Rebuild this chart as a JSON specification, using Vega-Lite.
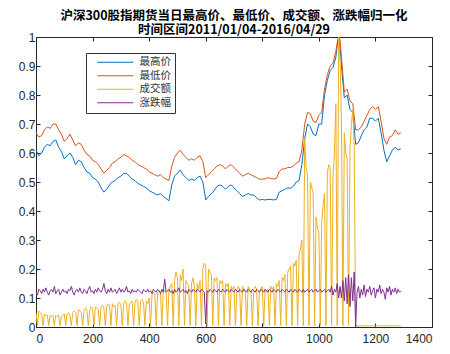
{
"$schema": "https://vega.github.io/schema/vega-lite/v6.json",
"width": 396, "height": 290,
"autosize": "none",
"padding": {"left": 36, "top": 37, "right": 18, "bottom": 27},
"background": "white",
"title": {"text": ["沪深300股指期货当日最高价、最低价、成交额、涨跌幅归一化", "时间区间2011/01/04-2016/04/29"], "font": "Noto Sans CJK SC", "fontSize": 12.5, "fontWeight": "bold", "color": "#000000", "lineHeight": 14, "offset": -5, "anchor": "middle"},
"config": {"view": {"stroke": null}, "axis": {"grid": false, "domainColor": "#262626", "tickColor": "#262626", "labelColor": "#262626", "labelFont": "Liberation Sans", "labelFontSize": 12, "tickSize": -4, "title": null}},
"data": {"values": [
{"x":0,"v":0.05,"r":0.12,"h":0.61,"l":0.67},{"x":5,"v":0.005,"r":0.11},{"x":10,"v":0.055,"r":0.13,"h":0.59,"l":0.655},{"x":15,"v":0.05,"r":0.125},
{"x":20,"v":0.045,"r":0.115,"h":0.6,"l":0.66},{"x":25,"v":0.005,"r":0.13},{"x":30,"v":0.045,"r":0.12,"h":0.62,"l":0.68},{"x":35,"v":0.04,"r":0.135},
{"x":40,"v":0.04,"r":0.12,"h":0.63,"l":0.69},{"x":45,"v":0.005,"r":0.11},{"x":50,"v":0.04,"r":0.125,"h":0.625,"l":0.685},{"x":55,"v":0.035,"r":0.13},
{"x":60,"v":0.04,"r":0.12,"h":0.64,"l":0.7},{"x":65,"v":0.005,"r":0.14},{"x":70,"v":0.04,"r":0.115,"h":0.645,"l":0.7},{"x":75,"v":0.035,"r":0.125},
{"x":80,"v":0.04,"r":0.13,"h":0.62,"l":0.68},{"x":85,"v":0.005,"r":0.11},{"x":90,"v":0.035,"r":0.12,"h":0.605,"l":0.665},{"x":95,"v":0.04,"r":0.13},
{"x":100,"v":0.045,"r":0.12,"h":0.58,"l":0.64},{"x":105,"v":0.005,"r":0.125},{"x":110,"v":0.045,"r":0.115,"h":0.59,"l":0.65},{"x":115,"v":0.05,"r":0.13},
{"x":120,"v":0.04,"r":0.125,"h":0.6,"l":0.665},{"x":125,"v":0.005,"r":0.14},{"x":130,"v":0.05,"r":0.12,"h":0.585,"l":0.645},{"x":135,"v":0.055,"r":0.11},
{"x":140,"v":0.05,"r":0.125,"h":0.56,"l":0.625},{"x":145,"v":0.005,"r":0.13},{"x":150,"v":0.06,"r":0.12,"h":0.575,"l":0.635},{"x":155,"v":0.055,"r":0.135},
{"x":160,"v":0.05,"r":0.12,"h":0.57,"l":0.63},{"x":165,"v":0.005,"r":0.115},{"x":170,"v":0.06,"r":0.13,"h":0.55,"l":0.61},{"x":175,"v":0.065,"r":0.125},
{"x":180,"v":0.055,"r":0.115,"h":0.535,"l":0.595},{"x":185,"v":0.005,"r":0.13},{"x":190,"v":0.06,"r":0.14,"h":0.53,"l":0.59},{"x":195,"v":0.07,"r":0.12},
{"x":200,"v":0.065,"r":0.125,"h":0.515,"l":0.575},{"x":205,"v":0.005,"r":0.115},{"x":210,"v":0.07,"r":0.13,"h":0.51,"l":0.57},{"x":215,"v":0.065,"r":0.12},
{"x":220,"v":0.06,"r":0.135,"h":0.5,"l":0.56},{"x":225,"v":0.005,"r":0.125},{"x":230,"v":0.07,"r":0.12,"h":0.48,"l":0.545},{"x":235,"v":0.075,"r":0.13},
{"x":240,"v":0.065,"r":0.15,"h":0.465,"l":0.53},{"x":245,"v":0.005,"r":0.125},{"x":250,"v":0.07,"r":0.115,"h":0.475,"l":0.54},{"x":255,"v":0.08,"r":0.13},
{"x":260,"v":0.075,"r":0.12,"h":0.49,"l":0.55},{"x":265,"v":0.005,"r":0.135},{"x":270,"v":0.08,"r":0.12,"h":0.5,"l":0.565},{"x":275,"v":0.07,"r":0.125},
{"x":280,"v":0.075,"r":0.13,"h":0.505,"l":0.57},{"x":285,"v":0.005,"r":0.115},{"x":290,"v":0.08,"r":0.125,"h":0.515,"l":0.58},{"x":295,"v":0.085,"r":0.135},
{"x":300,"v":0.075,"r":0.12,"h":0.52,"l":0.585},{"x":305,"v":0.005,"r":0.13},{"x":310,"v":0.08,"r":0.12,"h":0.53,"l":0.595},{"x":315,"v":0.09,"r":0.125},
{"x":320,"v":0.085,"r":0.14,"h":0.53,"l":0.59},{"x":325,"v":0.005,"r":0.12},{"x":330,"v":0.08,"r":0.125,"h":0.52,"l":0.585},{"x":335,"v":0.085,"r":0.115},
{"x":340,"v":0.09,"r":0.13,"h":0.51,"l":0.575},{"x":345,"v":0.005,"r":0.12},{"x":350,"v":0.085,"r":0.125,"h":0.505,"l":0.57},{"x":355,"v":0.095,"r":0.12},
{"x":360,"v":0.085,"r":0.13,"h":0.495,"l":0.56},{"x":365,"v":0.005,"r":0.125},{"x":370,"v":0.09,"r":0.12,"h":0.49,"l":0.555},{"x":375,"v":0.095,"r":0.115},
{"x":380,"v":0.085,"r":0.13,"h":0.485,"l":0.55},{"x":385,"v":0.005,"r":0.125},{"x":390,"v":0.09,"r":0.12,"h":0.48,"l":0.545},{"x":395,"v":0.08,"r":0.13},
{"x":400,"v":0.1,"r":0.12,"h":0.47,"l":0.535},{"x":405,"v":0.005,"r":0.125},{"x":410,"v":0.11,"r":0.115,"h":0.465,"l":0.53},{"x":415,"v":0.12,"r":0.13},
{"x":420,"v":0.115,"r":0.125,"h":0.46,"l":0.525},{"x":425,"v":0.005,"r":0.12},{"x":430,"v":0.12,"r":0.13,"h":0.455,"l":0.52},{"x":435,"v":0.125,"r":0.125},
{"x":440,"v":0.12,"r":0.115,"h":0.46,"l":0.525},{"x":445,"v":0.005,"r":0.13},{"x":450,"v":0.13,"r":0.12,"h":0.45,"l":0.515},{"x":455,"v":0.125,"r":0.165},
{"x":460,"v":0.12,"r":0.12,"h":0.443,"l":0.51},{"x":465,"v":0.005,"r":0.125},{"x":470,"v":0.13,"r":0.13,"h":0.435,"l":0.505},{"x":475,"v":0.14,"r":0.12},
{"x":480,"v":0.15,"r":0.125,"h":0.49,"l":0.555},{"x":485,"v":0.005,"r":0.115},{"x":490,"v":0.16,"r":0.13,"h":0.52,"l":0.585},{"x":495,"v":0.19,"r":0.12},
{"x":500,"v":0.17,"r":0.125,"h":0.53,"l":0.6},{"x":505,"v":0.005,"r":0.135},{"x":510,"v":0.18,"r":0.12,"h":0.541,"l":0.61},{"x":515,"v":0.16,"r":0.125},
{"x":520,"v":0.2,"r":0.13,"h":0.525,"l":0.595},{"x":525,"v":0.005,"r":0.12},{"x":530,"v":0.16,"r":0.125,"h":0.515,"l":0.585},{"x":535,"v":0.15,"r":0.115},
{"x":540,"v":0.14,"r":0.13,"h":0.505,"l":0.575},{"x":545,"v":0.005,"r":0.125},{"x":550,"v":0.15,"r":0.12,"h":0.51,"l":0.58},{"x":555,"v":0.17,"r":0.13},
{"x":560,"v":0.14,"r":0.125,"h":0.505,"l":0.575},{"x":565,"v":0.005,"r":0.12},{"x":570,"v":0.15,"r":0.13,"h":0.515,"l":0.585},{"x":575,"v":0.13,"r":0.125},
{"x":580,"v":0.16,"r":0.12,"h":0.52,"l":0.59},{"x":585,"v":0.005,"r":0.13},{"x":590,"v":0.2,"r":0.125,"h":0.5,"l":0.57},{"x":595,"v":0.22,"r":0.12},
{"x":600,"v":0.21,"r":0.01,"h":0.438,"l":0.515},{"x":605,"v":0.005,"r":0.125},{"x":610,"v":0.2,"r":0.12,"h":0.45,"l":0.525},{"x":615,"v":0.19,"r":0.13},
{"x":620,"v":0.18,"r":0.125,"h":0.46,"l":0.535},{"x":625,"v":0.005,"r":0.12},{"x":630,"v":0.17,"r":0.13,"h":0.47,"l":0.545},{"x":635,"v":0.16,"r":0.125},
{"x":640,"v":0.17,"r":0.12,"h":0.485,"l":0.555},{"x":645,"v":0.005,"r":0.13},{"x":650,"v":0.16,"r":0.125,"h":0.49,"l":0.56},{"x":655,"v":0.15,"r":0.12},
{"x":660,"v":0.16,"r":0.13,"h":0.485,"l":0.555},{"x":665,"v":0.005,"r":0.125},{"x":670,"v":0.15,"r":0.12,"h":0.475,"l":0.545},{"x":675,"v":0.14,"r":0.13},
{"x":680,"v":0.15,"r":0.125,"h":0.485,"l":0.555},{"x":685,"v":0.005,"r":0.12},{"x":690,"v":0.14,"r":0.13,"h":0.49,"l":0.56},{"x":695,"v":0.13,"r":0.125},
{"x":700,"v":0.14,"r":0.12,"h":0.48,"l":0.55},{"x":705,"v":0.005,"r":0.13},{"x":710,"v":0.13,"r":0.125,"h":0.47,"l":0.54},{"x":715,"v":0.14,"r":0.12},
{"x":720,"v":0.13,"r":0.13,"h":0.46,"l":0.53},{"x":725,"v":0.005,"r":0.125},{"x":730,"v":0.14,"r":0.12,"h":0.45,"l":0.52},{"x":735,"v":0.13,"r":0.13},
{"x":740,"v":0.12,"r":0.125,"h":0.455,"l":0.525},{"x":745,"v":0.005,"r":0.12},{"x":750,"v":0.14,"r":0.13,"h":0.46,"l":0.53},{"x":755,"v":0.13,"r":0.125},
{"x":760,"v":0.12,"r":0.12,"h":0.455,"l":0.525},{"x":765,"v":0.005,"r":0.13},{"x":770,"v":0.13,"r":0.125,"h":0.455,"l":0.52},{"x":775,"v":0.14,"r":0.12},
{"x":780,"v":0.13,"r":0.13,"h":0.445,"l":0.515},{"x":785,"v":0.005,"r":0.125},{"x":790,"v":0.12,"r":0.12,"h":0.438,"l":0.51},{"x":795,"v":0.13,"r":0.13},
{"x":800,"v":0.14,"r":0.125,"h":0.44,"l":0.51},{"x":805,"v":0.005,"r":0.12},{"x":810,"v":0.13,"r":0.13,"h":0.438,"l":0.51},{"x":815,"v":0.12,"r":0.125},
{"x":820,"v":0.13,"r":0.12,"h":0.44,"l":0.515},{"x":825,"v":0.005,"r":0.13},{"x":830,"v":0.14,"r":0.125,"h":0.44,"l":0.512},{"x":835,"v":0.13,"r":0.12},
{"x":840,"v":0.14,"r":0.13,"h":0.438,"l":0.51},{"x":845,"v":0.005,"r":0.125},{"x":850,"v":0.15,"r":0.12,"h":0.44,"l":0.513},{"x":855,"v":0.14,"r":0.13},
{"x":860,"v":0.16,"r":0.125,"h":0.465,"l":0.535},{"x":865,"v":0.005,"r":0.12},{"x":870,"v":0.17,"r":0.13,"h":0.47,"l":0.545},{"x":875,"v":0.16,"r":0.125},
{"x":880,"v":0.18,"r":0.12,"h":0.475,"l":0.545},{"x":885,"v":0.005,"r":0.13},{"x":890,"v":0.19,"r":0.125,"h":0.48,"l":0.55},{"x":895,"v":0.2,"r":0.12},
{"x":900,"v":0.21,"r":0.13,"h":0.478,"l":0.55},{"x":905,"v":0.005,"r":0.125},{"x":910,"v":0.22,"r":0.12,"h":0.485,"l":0.555},{"x":915,"v":0.21,"r":0.13},
{"x":920,"v":0.23,"r":0.125,"h":0.5,"l":0.565},{"x":925,"v":0.005,"r":0.12},{"x":930,"v":0.25,"r":0.13,"h":0.505,"l":0.57},{"x":935,"v":0.27,"r":0.125},
{"x":940,"v":0.3,"r":0.12,"h":0.56,"l":0.61},{"x":945,"v":0.005,"r":0.13},{"x":950,"v":0.65,"r":0.12,"h":0.65,"l":0.7},{"x":955,"v":0.55,"r":0.125},
{"x":960,"v":0.52,"r":0.13,"h":0.7,"l":0.74},{"x":965,"v":0.005,"r":0.12},{"x":970,"v":0.5,"r":0.125,"h":0.69,"l":0.735},{"x":975,"v":0.48,"r":0.13},
{"x":980,"v":0.46,"r":0.12,"h":0.665,"l":0.71},{"x":985,"v":0.005,"r":0.125},{"x":990,"v":0.38,"r":0.13,"h":0.66,"l":0.705},{"x":995,"v":0.34,"r":0.12},
{"x":1000,"v":0.33,"r":0.125,"h":0.7,"l":0.73},{"x":1005,"v":0.005,"r":0.13},{"x":1010,"v":0.36,"r":0.12,"h":0.7,"l":0.74},{"x":1015,"v":0.42,"r":0.125},
{"x":1020,"v":0.46,"r":0.13,"h":0.8,"l":0.82},{"x":1025,"v":0.005,"r":0.12},{"x":1030,"v":0.53,"r":0.125,"h":0.85,"l":0.87},{"x":1035,"v":0.56,"r":0.13},
{"x":1040,"v":0.55,"r":0.12,"h":0.885,"l":0.9},{"x":1045,"v":0.005,"r":0.14},{"x":1050,"v":0.52,"r":0.11,"h":0.895,"l":0.91},{"x":1055,"v":0.6,"r":0.13},
{"x":1060,"v":0.77,"r":0.12,"h":0.93,"l":0.95},{"x":1065,"v":0.005,"r":0.15,"h":0.97,"l":0.98},{"x":1070,"v":1.0,"r":0.1,"h":1.0,"l":1.0},{"x":1075,"v":0.92,"r":0.14,"h":0.96,"l":0.99},
{"x":1080,"v":0.7,"r":0.1,"h":0.9,"l":0.93},{"x":1085,"v":0.005,"r":0.16},{"x":1090,"v":0.67,"r":0.09,"h":0.79,"l":0.81},{"x":1095,"v":0.6,"r":0.17},
{"x":1100,"v":0.58,"r":0.08,"h":0.8,"l":0.82},{"x":1105,"v":0.005,"r":0.18},{"x":1110,"v":0.61,"r":0.07,"h":0.75,"l":0.78},{"x":1115,"v":0.7,"r":0.17},
{"x":1120,"v":0.75,"r":0.09,"h":0.74,"l":0.77},{"x":1125,"v":0.62,"r":0.19},{"x":1130,"v":0.005,"r":0.0,"h":0.63,"l":0.68},{"x":1135,"v":0.004,"r":0.12},
{"x":1140,"v":0.004,"r":0.14,"h":0.635,"l":0.68},{"x":1145,"v":0.004,"r":0.1},{"x":1150,"v":0.004,"r":0.13,"h":0.66,"l":0.69},{"x":1155,"v":0.004,"r":0.11},
{"x":1160,"v":0.004,"r":0.145,"h":0.68,"l":0.71},{"x":1165,"v":0.004,"r":0.105},{"x":1170,"v":0.004,"r":0.13,"h":0.69,"l":0.73},{"x":1175,"v":0.004,"r":0.12},
{"x":1180,"v":0.004,"r":0.14,"h":0.72,"l":0.75},{"x":1185,"v":0.004,"r":0.11},{"x":1190,"v":0.004,"r":0.125,"h":0.72,"l":0.76},{"x":1195,"v":0.004,"r":0.135},
{"x":1200,"v":0.004,"r":0.1,"h":0.71,"l":0.75},{"x":1205,"v":0.004,"r":0.13},{"x":1210,"v":0.004,"r":0.12,"h":0.72,"l":0.76},{"x":1215,"v":0.004,"r":0.145},
{"x":1220,"v":0.004,"r":0.115,"h":0.67,"l":0.71},{"x":1225,"v":0.004,"r":0.13},{"x":1230,"v":0.004,"r":0.12,"h":0.61,"l":0.65},{"x":1235,"v":0.004,"r":0.095},
{"x":1240,"v":0.004,"r":0.135,"h":0.57,"l":0.63},{"x":1245,"v":0.004,"r":0.12},{"x":1250,"v":0.004,"r":0.14,"h":0.59,"l":0.655},{"x":1255,"v":0.004,"r":0.11},
{"x":1260,"v":0.004,"r":0.13,"h":0.61,"l":0.66},{"x":1265,"v":0.004,"r":0.12},{"x":1270,"v":0.004,"r":0.135,"h":0.62,"l":0.68},{"x":1275,"v":0.004,"r":0.115},
{"x":1280,"v":0.004,"r":0.13,"h":0.61,"l":0.665},{"x":1285,"v":0.004,"r":0.12},{"x":1290,"v":0.004,"r":0.125,"h":0.615,"l":0.67}
]},
"transform": [{"fold": ["h", "l", "v", "r"], "as": ["k", "val"]}, {"filter": "isValid(datum.val)"}],
"layer": [
{"mark": {"type": "line", "strokeWidth": 1, "clip": true},
 "encoding": {
  "x": {"field": "x", "type": "quantitative", "scale": {"domain": [0, 1400], "nice": false}, "axis": {"values": [0,200,400,600,800,1000,1200,1400], "format": "d", "labelPadding": 10}},
  "y": {"field": "val", "type": "quantitative", "scale": {"domain": [0, 1], "nice": false}, "axis": {"values": [0,0.1,0.2,0.3,0.4,0.5,0.6,0.7,0.8,0.9,1], "format": "~g", "labelPadding": 5}},
  "color": {"field": "k", "type": "nominal", "scale": {"domain": ["h", "l", "v", "r"], "range": ["#0072BD", "#D95319", "#EDB120", "#7E2F8E"]},
   "legend": {"title": null, "orient": "none", "legendX": 50, "legendY": 16, "direction": "vertical", "symbolType": "M0.667,0H12.667", "symbolSize": 36, "symbolStrokeWidth": 1, "labelFont": "Noto Sans CJK SC", "labelFontSize": 10.5, "labelColor": "#333333", "labelOffset": 39, "rowPadding": 2.5, "padding": 4, "strokeColor": "#333333", "fillColor": "white", "labelExpr": "{'h':'最高价','l':'最低价','v':'成交额','r':'涨跌幅'}[datum.label]"}}
 }},
{"mark": {"type": "point", "opacity": 0},
 "encoding": {
  "x": {"field": "x", "type": "quantitative", "axis": {"orient": "top", "values": [0,200,400,600,800,1000,1200,1400], "labels": false}},
  "y": {"field": "val", "type": "quantitative", "axis": {"orient": "right", "values": [0,0.1,0.2,0.3,0.4,0.5,0.6,0.7,0.8,0.9,1], "labels": false}}
 }}
],
"resolve": {"axis": {"x": "independent", "y": "independent"}}
}
